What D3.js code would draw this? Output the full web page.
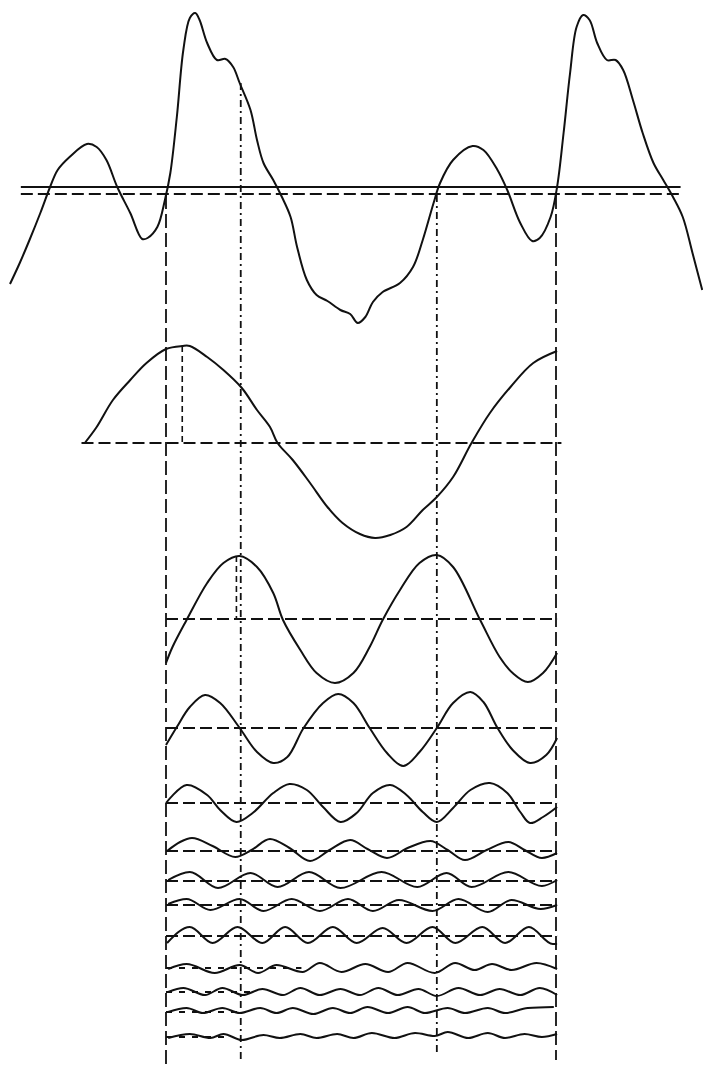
<!DOCTYPE html>
<html><head><meta charset="utf-8">
<script src="https://cdn.jsdelivr.net/npm/d3@7/dist/d3.min.js"></script>
<style>html,body{margin:0;padding:0;background:#fff;}svg{display:block;}</style>
</head><body>
<script>
// x values are phase in degrees of the fundamental period, y values are amplitudes
const topWave = [[-144,-97],[-135,-76],[-126,-53],[-116,-26],[-107,0],[-100,17],[-89,30],[-73,43],[-64,40],[-55,27],[-45,0],[-33,-26],[-22,-52],[-17,-51],[-8,-40],[-1,-13],[4,14],[10,70],[16,137],[22,169],[27,174],[31,167],[38,144],[47,127],[55,128],[62,120],[68,104],[78,77],[84,47],[90,24],[99,7],[107,-10],[115,-30],[121,-60],[130,-93],[139,-108],[149,-114],[161,-123],[170,-127],[177,-136],[184,-130],[191,-115],[200,-105],[216,-96],[228,-80],[237,-53],[247,-16],[253,4],[265,27],[283,41],[293,37],[306,17],[315,-3],[327,-36],[338,-54],[345,-51],[355,-30],[361,0],[367,54],[373,114],[379,160],[385,172],[391,167],[398,144],[407,127],[415,127],[422,117],[431,87],[440,54],[450,24],[459,7],[468,-10],[477,-30],[486,-66],[495,-103]];

const harmonic1 = [[-75,0],[-64,16],[-49,43],[-33,63],[-18,80],[0,94],[15,97],[22,97],[38,86],[53,73],[70,55],[84,33],[96,16],[103,0],[117,-17],[133,-40],[149,-64],[163,-80],[179,-91],[193,-95],[207,-92],[222,-84],[237,-67],[250,-54],[265,-34],[282,0],[299,30],[318,56],[339,80],[361,92]];
const harmonic2 = [[0,-44],[6,-28],[19,-1],[38,36],[53,56],[68,63],[84,52],[99,26],[108,-1],[124,-31],[139,-54],[156,-64],[173,-54],[188,-28],[200,-1],[216,29],[234,56],[250,64],[265,52],[290,-1],[308,-38],[320,-54],[334,-63],[348,-54],[361,-34]];
const harmonic3 = [[0,-17],[10,1],[22,21],[36,33],[50,25],[68,0],[84,-24],[99,-35],[112,-29],[127,0],[145,25],[159,34],[173,25],[188,0],[204,-25],[219,-38],[234,-24],[250,0],[265,25],[281,36],[293,26],[306,0],[320,-22],[336,-35],[351,-27],[361,-10]];
const harmonic4 = [[0,0],[19,18],[38,8],[50,-7],[65,-19],[80,-10],[99,10],[114,19],[130,13],[145,-4],[161,-19],[176,-10],[191,10],[207,18],[222,8],[237,-9],[250,-19],[265,-5],[281,13],[299,20],[315,10],[327,-9],[336,-20],[348,-14],[361,-4]];
const harmonic5 = [[1,0],[13,9],[24,13],[43,5],[64,-6],[79,1],[96,12],[114,3],[133,-10],[151,1],[170,11],[186,2],[204,-7],[223,3],[244,10],[260,1],[276,-9],[296,1],[316,9],[331,1],[347,-7],[361,-2]];
const harmonic6 = [[2,1],[22,9],[48,-7],[78,8],[103,-6],[132,9],[161,-7],[199,9],[232,-6],[259,8],[282,-6],[316,9],[347,-5],[361,1]];
const harmonic7 = [[2,1],[19,6],[41,-5],[68,6],[90,-6],[116,6],[142,-6],[168,6],[191,-6],[215,5],[246,-6],[270,6],[297,-7],[319,5],[346,-4],[361,0]];
const harmonic8 = [[1,-7],[22,9],[43,-7],[66,9],[89,-7],[110,9],[131,-7],[154,9],[176,-7],[200,8],[222,-7],[246,9],[267,-7],[292,9],[313,-7],[335,9],[357,-8],[361,-8]];
const harmonic9 = [[2,-1],[19,4],[45,-5],[68,3],[85,-5],[102,3],[126,-4],[142,5],[162,-4],[184,4],[205,-4],[223,5],[248,-5],[267,5],[285,-2],[301,4],[319,-2],[342,5],[361,-1]];
const harmonic10 = [[2,0],[16,4],[36,-3],[52,4],[71,-3],[89,3],[108,-3],[124,4],[142,-3],[161,3],[179,-3],[196,4],[214,-3],[233,3],[250,-4],[270,4],[290,-3],[308,3],[327,-3],[345,4],[361,-3]];
const harmonic11 = [[2,0],[19,4],[34,-1],[52,4],[68,-1],[87,4],[102,-1],[117,4],[136,-2],[154,4],[170,-1],[186,5],[205,-1],[223,5],[239,-1],[260,4],[276,-1],[297,4],[313,-1],[334,4],[358,5]];
const harmonic12 = [[2,-1],[22,3],[41,-1],[53,3],[70,-3],[90,2],[105,-1],[124,3],[139,-1],[158,3],[173,-1],[190,4],[211,-1],[230,4],[248,1],[260,5],[279,-1],[297,4],[313,-1],[331,3],[347,0],[361,3]];
const harmonics = [harmonic1,harmonic2,harmonic3,harmonic4,harmonic5,harmonic6,harmonic7,harmonic8,harmonic9,harmonic10,harmonic11,harmonic12];

// phase markers (degrees) for the vertical guide lines
const guidePhases = [0, 69, 250, 360];
// [harmonic, phase, amplitude] of the peak markers on harmonics 1 and 2
const peakMarks = [[1, 15, 97], [2, 65, 63]];

// ---------- layout ----------
const W = 703, H = 1065;
const svg = d3.select("body").append("svg").attr("width", W).attr("height", H);
svg.append("rect").attr("width", W).attr("height", H).attr("fill", "#fff");

const x = d3.scaleLinear().domain([0, 360]).range([166, 556]);
const topBase = 187;
const rowBases = [443, 619, 728, 803, 851, 881, 905, 936, 968, 992, 1012, 1037];
const yFor = base => d3.scaleLinear().domain([-100, 100]).range([base + 100, base - 100]);

const ink = "#111";
const g = svg.append("g");

// vertical guides
const guideStyle = [
  {y0: 195, y1: 1065, dash: "14,5"},
  {y0: 83, y1: 1062, dash: "7,4,2,4"},
  {y0: 195, y1: 1055, dash: "7,4,2,4"},
  {y0: 195, y1: 1060, dash: "14,5"}
];
guidePhases.forEach((p, i) => {
  g.append("line").attr("x1", x(p)).attr("x2", x(p))
    .attr("y1", guideStyle[i].y0).attr("y2", guideStyle[i].y1)
    .attr("stroke", ink).attr("stroke-width", 1.8)
    .attr("stroke-dasharray", guideStyle[i].dash);
});

// top axis lines
const yTop = yFor(topBase);
g.append("line").attr("x1", x(-134)).attr("x2", x(475)).attr("y1", yTop(0)).attr("y2", yTop(0))
  .attr("stroke", ink).attr("stroke-width", 2);
g.append("line").attr("x1", x(-134)).attr("x2", x(476)).attr("y1", yTop(-7)).attr("y2", yTop(-7))
  .attr("stroke", ink).attr("stroke-width", 1.8).attr("stroke-dasharray", "12,5");

// harmonic baselines
const baseExtent = [[-78,365],[0,361],[0,361],[0,361],[0,361],[0,361],[0,361],[0,361],[0,125],[0,78],[0,70],[0,60]];
rowBases.forEach((b, i) => {
  const [a, c] = baseExtent[i];
  g.append("line").attr("x1", x(a)).attr("x2", x(c)).attr("y1", b).attr("y2", b)
    .attr("stroke", ink).attr("stroke-width", 1.8).attr("stroke-dasharray", i < 8 ? "12,5" : "6,7");
});

// peak markers
peakMarks.forEach(([h, p, v]) => {
  const y = yFor(rowBases[h - 1]);
  g.append("line").attr("x1", x(p)).attr("x2", x(p)).attr("y1", y(v)).attr("y2", y(0))
    .attr("stroke", ink).attr("stroke-width", 1.6).attr("stroke-dasharray", "6,4");
});

// top wave
g.append("path").datum(topWave)
  .attr("d", d3.line().x(d => x(d[0])).y(d => yTop(d[1])).curve(d3.curveCatmullRom.alpha(0.5)))
  .attr("fill", "none").attr("stroke", ink).attr("stroke-width", 2)
  .attr("stroke-linejoin", "round");

// harmonics
harmonics.forEach((h, i) => {
  const y = yFor(rowBases[i]);
  g.append("path").datum(h)
    .attr("d", d3.line().x(d => x(d[0])).y(d => y(d[1]))
      .curve(i < 4 ? d3.curveCatmullRom.alpha(0.5) : d3.curveMonotoneX))
    .attr("fill", "none").attr("stroke", ink).attr("stroke-width", 2)
    .attr("stroke-linejoin", "round");
});
</script>
</body></html>
